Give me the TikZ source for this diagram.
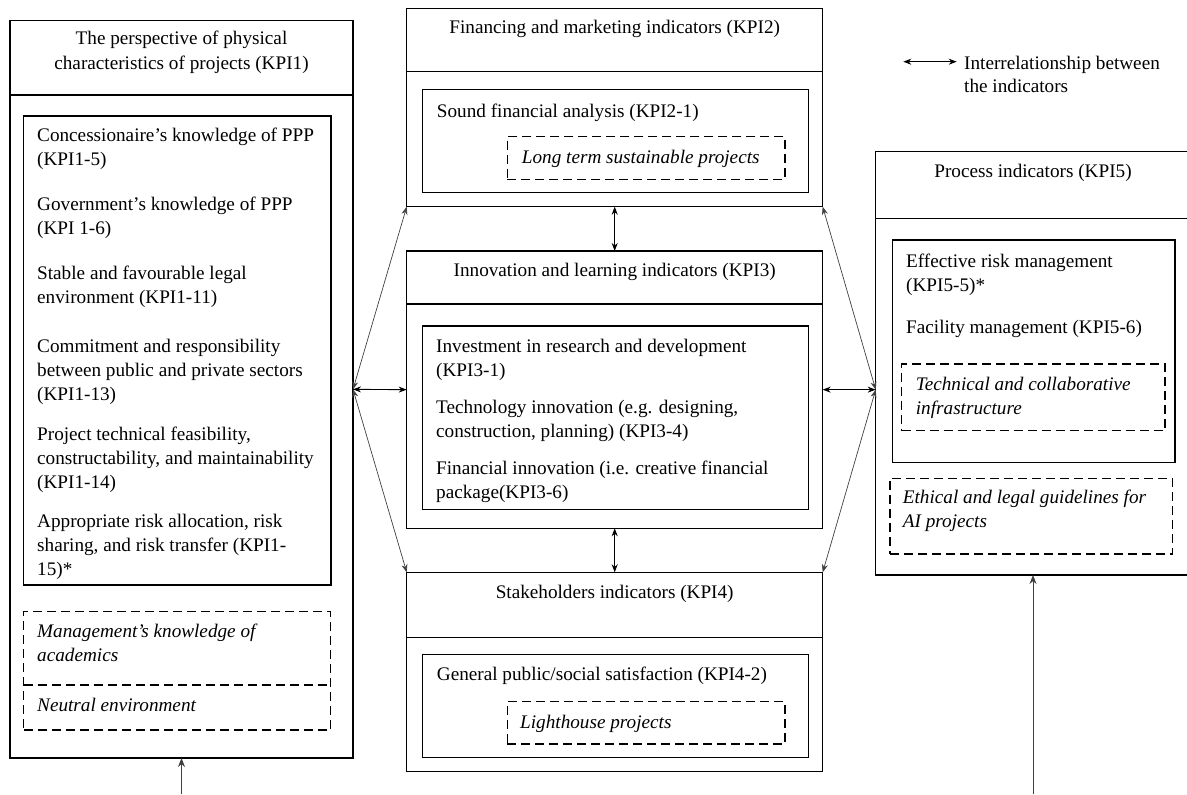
\documentclass[tikz,border=0pt]{standalone}
\usepackage{fontspec}
\setmainfont{Liberation Serif}
\usetikzlibrary{arrows.meta}
\newcommand{\kfont}{\fontsize{19.2pt}{24pt}\selectfont}
\tikzset{
  box/.style={draw=black, line width=1.5pt, anchor=north west, inner sep=0pt, outer sep=0pt},
  dbox/.style={box, dash pattern=on 9pt off 5pt},
  divider/.style={draw=black, line width=1.3pt},
  ddivider/.style={draw=black, line width=1.5pt, dash pattern=on 9pt off 5pt},
  txt/.style={anchor=base west, inner sep=0pt, font=\kfont},
  itxt/.style={txt, font=\kfont\itshape},
  ttl/.style={anchor=base, inner sep=0pt, font=\kfont},
  link/.style={draw=black!75, line width=0.7pt, {Stealth[length=8pt,width=6pt]}-{Stealth[length=8pt,width=6pt]}},
  hlink/.style={draw=black, line width=0.9pt, {Stealth[length=8pt,width=6pt]}-{Stealth[length=8pt,width=6pt]}},
  uparrow/.style={draw=black!75, fill=black!75, line width=1pt, arrows={-Stealth[length=9pt,width=7pt]}}
}
\begin{document}
\begin{tikzpicture}[x=1pt, y=-1pt]
\useasboundingbox (0,0) rectangle (1187,795);

% ---------- KPI1 ----------
\node[box, minimum width=343pt, minimum height=737.3pt] (kpi1) at (10,20.7) {};
\draw[divider] (10,95) -- (353,95);
\node[ttl] (t1a) at (181.5,45) {The perspective of physical};
\node[ttl] (t1b) at (181.5,69) {characteristics of projects (KPI1)};
\node[box, minimum width=307.5pt, minimum height=469pt] (in1) at (23.5,116) {};
\node[txt] (a1) at (37,141) {Concessionaire’s knowledge of PPP};
\node[txt] (a2) at (37,165) {(KPI1-5)};
\node[txt] (b1) at (37,210) {Government’s knowledge of PPP};
\node[txt] (b2) at (37,234) {(KPI 1-6)};
\node[txt] (c1) at (37,279) {Stable and favourable legal};
\node[txt] (c2) at (37,303) {environment (KPI1-11)};
\node[txt] (d1) at (37,352) {Commitment and responsibility};
\node[txt] (d2) at (37,376) {between public and private sectors};
\node[txt] (d3) at (37,400) {(KPI1-13)};
\node[txt] (e1) at (37,440) {Project technical feasibility,};
\node[txt] (e2) at (37,464) {constructability, and maintainability};
\node[txt] (e3) at (37,488) {(KPI1-14)};
\node[txt] (f1) at (37,527) {Appropriate risk allocation, risk};
\node[txt] (f2) at (37,551) {sharing, and risk transfer (KPI1-};
\node[txt] (f3) at (37,575) {15)*};
\node[dbox, minimum width=307pt, minimum height=118.3pt] (dm) at (23.5,611.7) {};
\draw[ddivider] (23.5,685) -- (330.5,685);
\node[itxt] (m1) at (37,637) {Management’s knowledge of};
\node[itxt] (m2) at (37,661) {academics};
\node[itxt] (n1) at (37,711) {Neutral environment};

% ---------- KPI2 ----------
\node[box, minimum width=416pt, minimum height=198.4pt] (kpi2) at (406.7,8.3) {};
\draw[divider] (406.7,71.7) -- (822.7,71.7);
\node[ttl] (t2) at (614.7,33.5) {Financing and marketing indicators (KPI2)};
\node[box, minimum width=385.6pt, minimum height=103.4pt] (in2) at (422.7,89.3) {};
\node[txt] (s1) at (436.7,117) {Sound financial analysis (KPI2-1)};
\node[dbox, minimum width=277.7pt, minimum height=42.6pt] (dl) at (507.3,136.7) {};
\node[itxt] (l1) at (521.7,163.5) {Long term sustainable projects};

% ---------- KPI3 ----------
\node[box, minimum width=416pt, minimum height=277.3pt] (kpi3) at (406.7,251) {};
\draw[divider] (406.7,304) -- (822.7,304);
\node[ttl] (t3) at (614.7,276.5) {Innovation and learning indicators (KPI3)};
\node[box, minimum width=385.6pt, minimum height=183.3pt] (in3) at (422.7,326) {};
\node[txt] (g1) at (436,352) {Investment in research and development};
\node[txt] (g2) at (436,376) {(KPI3-1)};
\node[txt] (h1) at (436,413) {Technology innovation (e.g. designing,};
\node[txt] (h2) at (436,437) {construction, planning) (KPI3-4)};
\node[txt] (i1) at (436,474) {Financial innovation (i.e. creative financial};
\node[txt] (i2) at (436,498) {package(KPI3-6)};

% ---------- KPI4 ----------
\node[box, minimum width=416pt, minimum height=199.4pt] (kpi4) at (406.7,572.3) {};
\draw[divider] (406.7,637.3) -- (822.7,637.3);
\node[ttl] (t4) at (614.7,598.5) {Stakeholders indicators (KPI4)};
\node[box, minimum width=385.6pt, minimum height=103.4pt] (in4) at (422.7,654.3) {};
\node[txt] (p1) at (436.7,680.5) {General public/social satisfaction (KPI4-2)};
\node[dbox, minimum width=277.7pt, minimum height=42.3pt] (dh) at (507.3,701.7) {};
\node[itxt] (lh1) at (520,728) {Lighthouse projects};

% ---------- KPI5 ----------
\node[box, minimum width=314.6pt, minimum height=423.3pt] (kpi5) at (875.7,151.7) {};
\draw[divider] (875.7,218.3) -- (1190.3,218.3);
\node[ttl] (t5) at (1033,177) {Process indicators (KPI5)};
\node[box, minimum width=282.3pt, minimum height=222.7pt] (in5) at (892.7,240) {};
\node[txt] (r1) at (906,267) {Effective risk management};
\node[txt] (r2) at (906,291) {(KPI5-5)*};
\node[txt] (q1) at (906,333.5) {Facility management (KPI5-6)};
\node[dbox, minimum width=263.3pt, minimum height=66.7pt] (dt) at (901.7,364) {};
\node[itxt] (u1) at (915.7,390.5) {Technical and collaborative};
\node[itxt] (u2) at (915.7,414) {infrastructure};
\node[dbox, minimum width=282.7pt, minimum height=75.7pt] (de) at (890,478.3) {};
\node[itxt] (v1) at (902.7,503.5) {Ethical and legal guidelines for};
\node[itxt] (v2) at (902.7,527) {AI projects};

% ---------- Legend ----------
\coordinate (lg1) at (903.3,61.7);
\coordinate (lg2) at (956.7,61.7);
\draw[hlink] (lg1) -- (lg2);
\node[txt] (lgt1) at (964,69) {Interrelationship between};
\node[txt] (lgt2) at (964,92) {the indicators};

% ---------- Connectors ----------
\coordinate (lhub) at (kpi1.east);
\coordinate (rhub) at (kpi3.east -| kpi5.west);
\draw[hlink] (lhub) -- (kpi3.west);
\draw[link] (lhub) -- (kpi2.south west);
\draw[link] (lhub) -- (kpi4.north west);
\draw[hlink] (kpi3.east) -- (rhub);
\draw[link] (kpi2.south east) -- (rhub);
\draw[link] (kpi4.north east) -- (rhub);
\draw[hlink] (kpi2.south) -- (kpi3.north);
\draw[hlink] (kpi3.south) -- (kpi4.north);
\coordinate (b1in) at (181.5,794);
\coordinate (b5in) at (1033,794);
\draw[uparrow] (b1in) -- (kpi1.south);
\draw[uparrow] (b5in) -- (kpi5.south);
\end{tikzpicture}
\end{document}
